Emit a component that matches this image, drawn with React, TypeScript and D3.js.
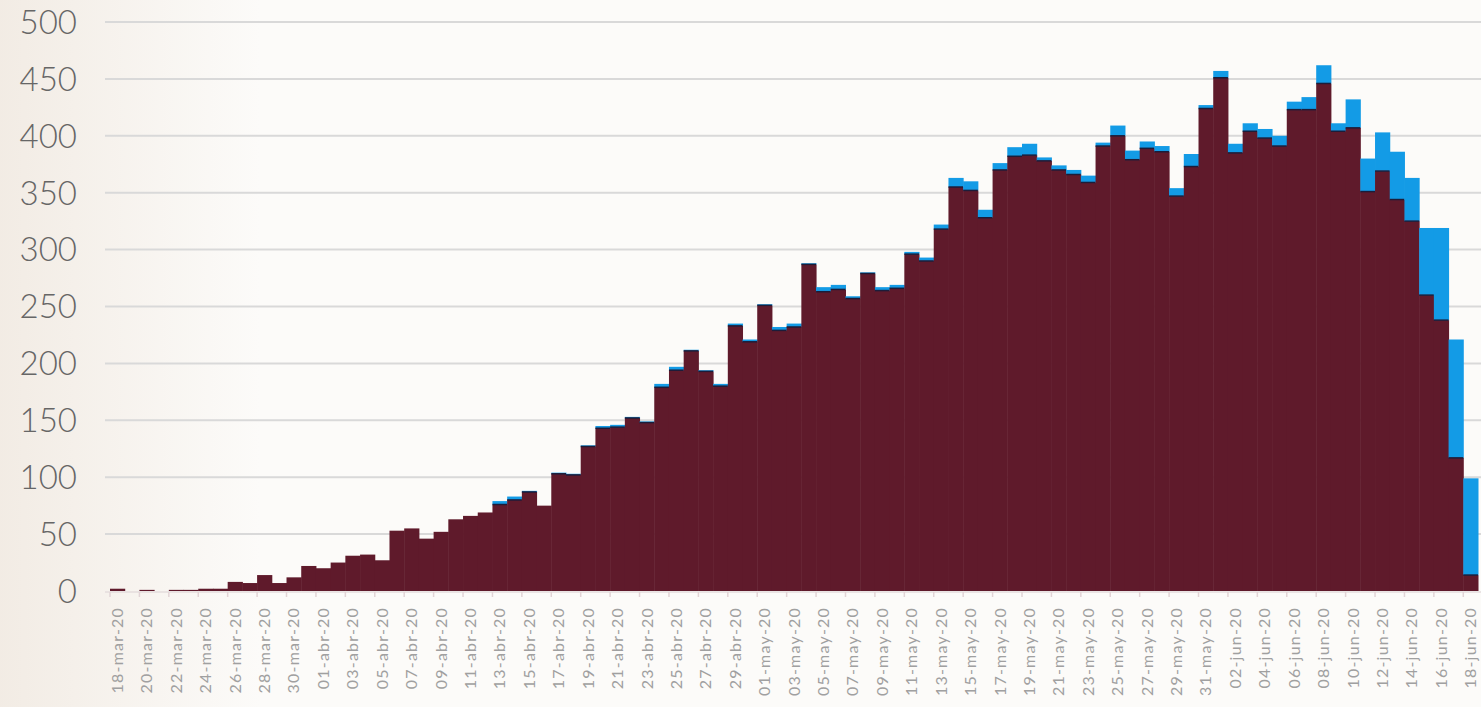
import React from "react";
import * as d3 from "d3";

const dates: string[] = [
  "18-mar-20","19-mar-20","20-mar-20","21-mar-20","22-mar-20","23-mar-20","24-mar-20","25-mar-20","26-mar-20","27-mar-20","28-mar-20","29-mar-20","30-mar-20","31-mar-20",
  "01-abr-20","02-abr-20","03-abr-20","04-abr-20","05-abr-20","06-abr-20","07-abr-20","08-abr-20","09-abr-20","10-abr-20","11-abr-20","12-abr-20","13-abr-20","14-abr-20","15-abr-20",
  "16-abr-20","17-abr-20","18-abr-20","19-abr-20","20-abr-20","21-abr-20","22-abr-20","23-abr-20","24-abr-20","25-abr-20","26-abr-20","27-abr-20","28-abr-20","29-abr-20","30-abr-20",
  "01-may-20","02-may-20","03-may-20","04-may-20","05-may-20","06-may-20","07-may-20","08-may-20","09-may-20","10-may-20","11-may-20","12-may-20","13-may-20","14-may-20","15-may-20",
  "16-may-20","17-may-20","18-may-20","19-may-20","20-may-20","21-may-20","22-may-20","23-may-20","24-may-20","25-may-20","26-may-20","27-may-20","28-may-20","29-may-20","30-may-20","31-may-20",
  "01-jun-20","02-jun-20","03-jun-20","04-jun-20","05-jun-20","06-jun-20","07-jun-20","08-jun-20","09-jun-20","10-jun-20","11-jun-20","12-jun-20","13-jun-20","14-jun-20","15-jun-20","16-jun-20","17-jun-20","18-jun-20",
];

const confirmed: number[] = [
  2, 0, 1, 0, 1, 1, 2, 2, 8, 7, 14, 7, 12, 22,
  20, 25, 31, 32, 27, 53, 55, 46, 52, 63, 66, 69, 76, 80, 87,
  75, 103, 102, 127, 143, 144, 152, 148, 179, 194, 211, 193, 180, 233, 219,
  251, 229, 232, 287, 263, 265, 257, 279, 264, 266, 296, 290, 318, 355, 352,
  328, 370, 382, 383, 378, 370, 366, 359, 391, 400, 379, 389, 386, 347, 373, 424,
  451, 385, 404, 398, 391, 423, 423, 446, 404, 407, 351, 369, 344, 325, 260, 238, 117, 14,
];

const pending: number[] = [
  0, 0, 0, 0, 0, 0, 0, 0, 0, 0, 0, 0, 0, 0,
  0, 0, 0, 0, 0, 0, 0, 0, 0, 0, 0, 0, 3, 3, 1,
  0, 1, 1, 1, 2, 2, 1, 1, 3, 3, 1, 1, 2, 2, 2,
  1, 3, 3, 1, 4, 4, 2, 1, 3, 3, 2, 3, 4, 8, 8,
  7, 6, 8, 10, 3, 4, 4, 6, 3, 9, 8, 6, 5, 7, 11, 3,
  6, 8, 7, 8, 9, 7, 11, 16, 7, 25, 29, 34, 42, 38, 59, 81, 104, 85,
];

const yTicks: number[] = [0, 50, 100, 150, 200, 250, 300, 350, 400, 450, 500];

const W = 1481;
const H = 707;
const MAROON = "#5f1a2b";
const BLUE = "#139be6";

export default function App() {
  const x = d3.scaleBand<string>().domain(dates).range([110, 1478]).padding(0);
  const y = d3.scaleLinear().domain([0, 500]).range([591, 22]);
  const bw = x.bandwidth();

  return (
    <svg
      width={W}
      height={H}
      style={{ position: "absolute", left: 0, top: 0, background: "#fcfbf9" }}
    >
      <defs>
        <linearGradient id="wm" x1="0" x2="1" y1="0" y2="0">
          <stop offset="0" stopColor="#eadfd3" stopOpacity={0.55} />
          <stop offset="1" stopColor="#eadfd3" stopOpacity={0} />
        </linearGradient>
      </defs>
      <rect x={0} y={0} width={260} height={H} fill="url(#wm)" />

      {yTicks.map((t) => (
        <g key={t}>
          {t > 0 && (
            <line x1={105} x2={W} y1={y(t)} y2={y(t)} stroke="#d9d9d9" strokeWidth={2} />
          )}
          <text
            x={77}
            y={y(t)}
            dy="0.36em"
            textAnchor="end"
            fontFamily="Lato, 'Open Sans', sans-serif"
            fontWeight={300}
            fontSize={33}
            fill="#666666"
          >
            {t}
          </text>
        </g>
      ))}

      <line x1={105} x2={W} y1={y(0) + 1} y2={y(0) + 1} stroke="#e4dcdc" strokeWidth={1.5} />

      {dates.map((d, i) => {
        const x0 = x(d) as number;
        const c = confirmed[i];
        const p = pending[i];
        return (
          <g key={d}>
            {c > 0 && (
              <rect x={x0} y={y(c)} width={bw + 0.5} height={y(0) - y(c)} fill={MAROON} />
            )}
            {p > 0 && (
              <rect x={x0} y={y(c + p)} width={bw + 0.5} height={y(c) - y(c + p)} fill={BLUE} />
            )}
            {c > 0 && p > 0 && (
              <line x1={x0} x2={x0 + bw} y1={y(c)} y2={y(c)} stroke="#1c1d3a" strokeWidth={1.5} />
            )}
          </g>
        );
      })}

      {dates.map((d, i) =>
        i % 2 === 0 ? (
          <g key={"t" + d}>
            <line
              x1={x(d) as number}
              x2={x(d) as number}
              y1={y(0) + 1}
              y2={y(0) + 6}
              stroke="#e2d4d6"
              strokeWidth={1.5}
            />
            <text
              transform={`translate(${(x(d) as number) + bw / 2},${607}) rotate(-90)`}
              dy="0.35em"
              textAnchor="end"
              fontFamily="Lato, 'Open Sans', sans-serif"
              fontSize={16}
              letterSpacing={1.2}
              fill="#a0a0a0"
            >
              {d}
            </text>
          </g>
        ) : null
      )}
    </svg>
  );
}
